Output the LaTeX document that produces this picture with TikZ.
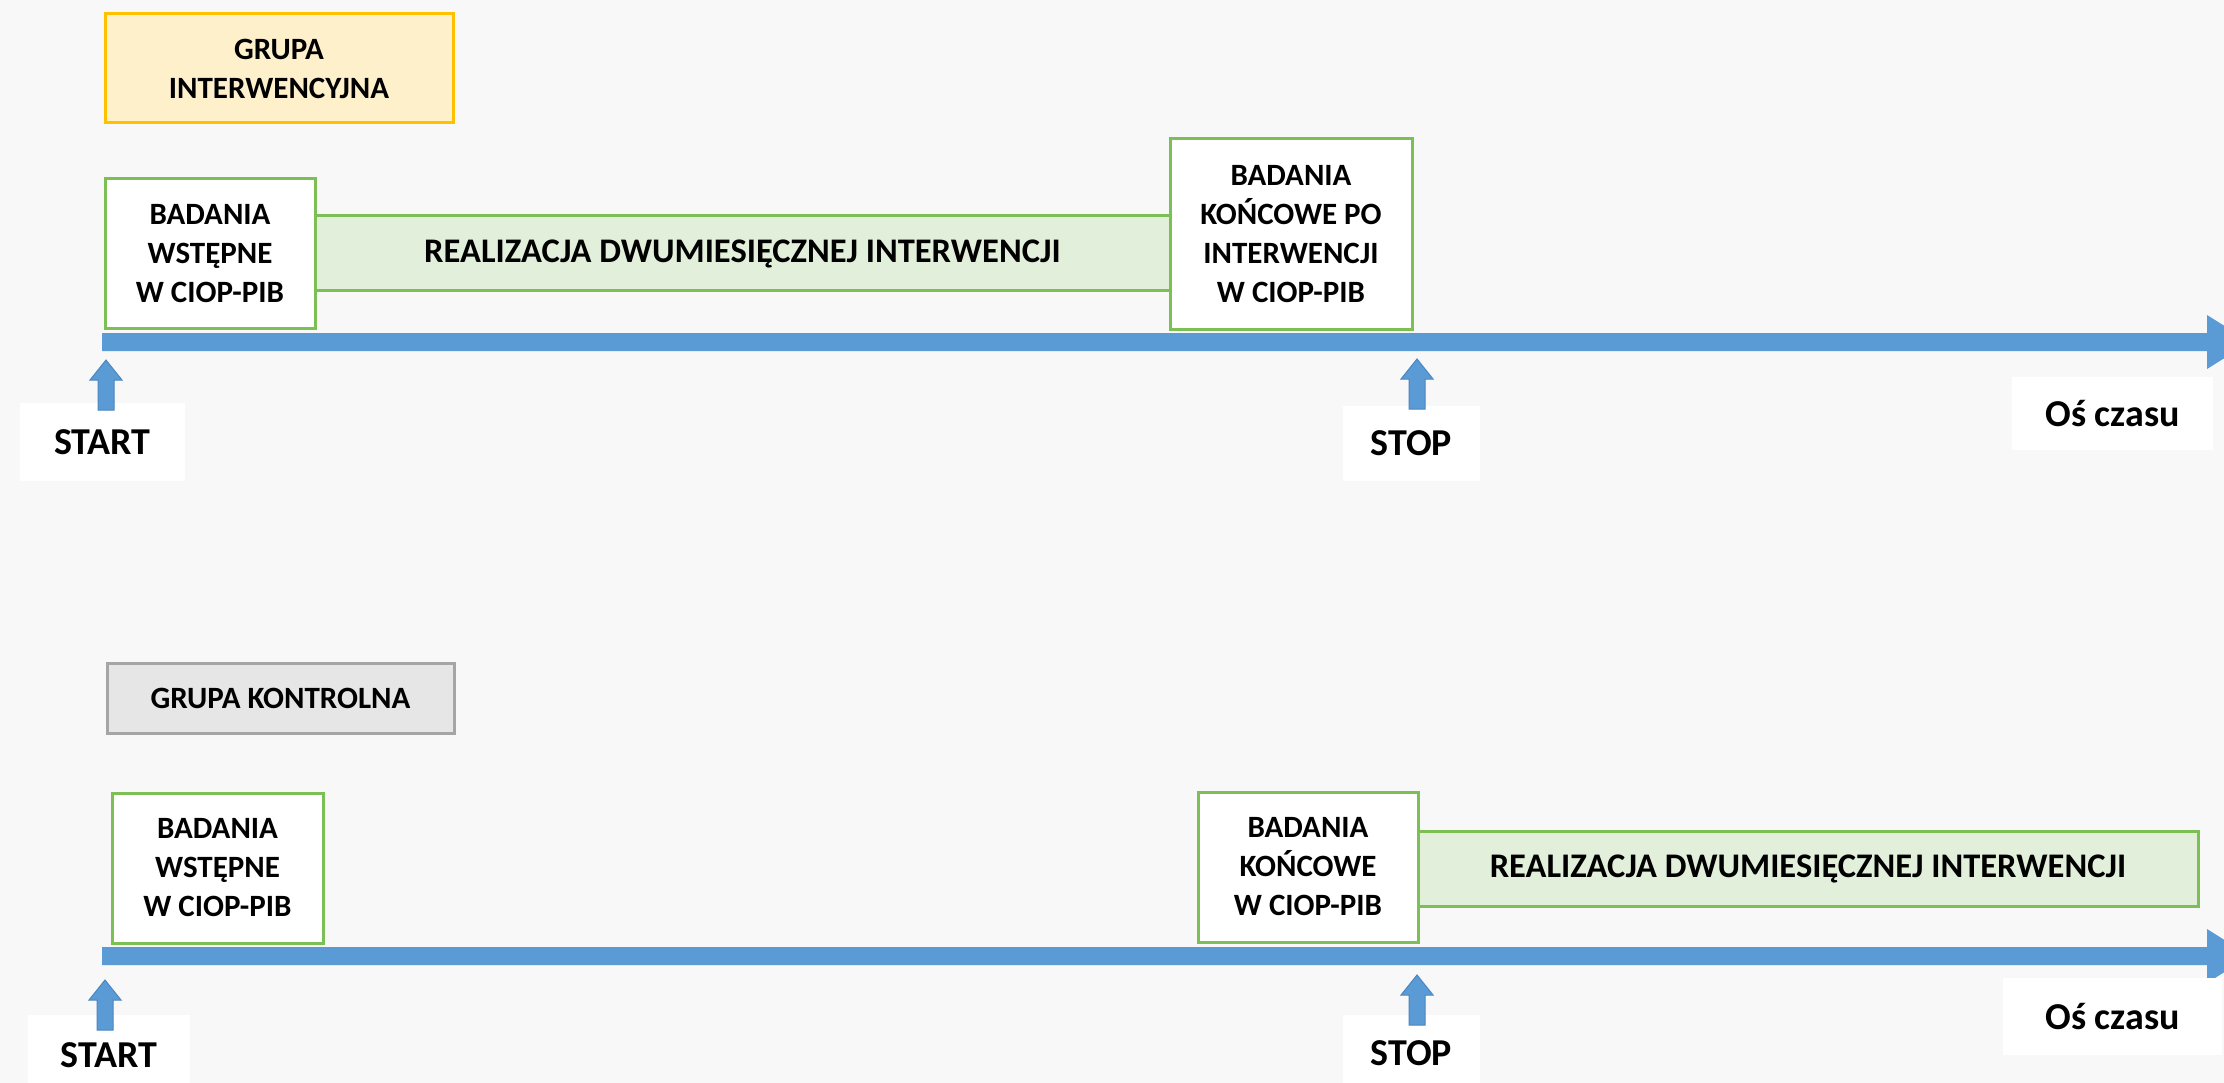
\documentclass[tikz,border=0pt]{standalone}
\usepackage{fontspec}
\setmainfont{Carlito}
\definecolor{bg}{HTML}{F8F8F8}
\definecolor{tlblue}{HTML}{5B9BD5}
\definecolor{tlblueD}{HTML}{4A86C0}
\definecolor{grn}{HTML}{7CBF55}
\definecolor{grnfill}{HTML}{E2EFDA}
\definecolor{orgB}{HTML}{FFC000}
\definecolor{orgF}{HTML}{FFF0CC}
\definecolor{gryB}{HTML}{A5A5A5}
\definecolor{gryF}{HTML}{E7E6E6}
\begin{document}
\begin{tikzpicture}[x=1pt,y=-1pt,
  txt/.style={font=\fontsize{31}{39}\selectfont\bfseries, align=center, inner sep=0pt, text=black},
  stepbox/.style={txt, draw=grn, line width=3pt, fill=white},
  barbox/.style={txt, draw=grn, line width=3pt, fill=grnfill, font=\fontsize{34.5}{39}\selectfont\bfseries},
  grpI/.style={txt, draw=orgB, line width=3pt, fill=orgF, font=\fontsize{31}{39}\selectfont\bfseries},
  grpK/.style={txt, draw=gryB, line width=3pt, fill=gryF, font=\fontsize{31}{39}\selectfont\bfseries},
  lbl/.style={fill=white, inner sep=0pt, font=\fontsize{38}{44}\selectfont\bfseries, text=black},
  timeline/.style={fill=tlblue},
  uparr/.pic={\filldraw[fill=tlblue, draw=tlblueD, line width=1pt]
     (-8,0) -- (-8,-30) -- (-16,-30) -- (0,-50) -- (16,-30) -- (8,-30) -- (8,0) -- cycle;}
]
\useasboundingbox (0,0) rectangle (2224,1083);
\clip (0,0) rectangle (2224,1083);
\fill[bg] (0,0) rectangle (2224,1083);

% ---------- row 1: intervention group ----------
\node[grpI, minimum width=348pt, minimum height=109pt] (gi) at (279,68.5) {GRUPA\\INTERWENCYJNA};

\node[barbox, minimum width=855pt, minimum height=75pt] (bar1) at (742.5,253.5) {REALIZACJA DWUMIESIĘCZNEJ INTERWENCJI};
\node[stepbox, minimum width=210pt, minimum height=149pt] (bw1) at (210,253.5) {BADANIA\\WSTĘPNE\\W CIOP-PIB};
\node[stepbox, minimum width=242pt, minimum height=190pt] (bk1) at (1291,234) {BADANIA\\KOŃCOWE PO\\INTERWENCJI\\W CIOP-PIB};

\fill[timeline] (102,333) -- (2207,333) -- (2207,315) -- (2250,342) -- (2207,369) -- (2207,351) -- (102,351) -- cycle;

\node[lbl, minimum width=165pt, minimum height=78pt] (start1) at (102.5,442) {START};
\node[lbl, minimum width=137pt, minimum height=75pt] (stop1) at (1411.5,443.5) {STOP};
\node[lbl, minimum width=201pt, minimum height=73pt] (os1) at (2112.5,413.5) {Oś czasu};

\pic at (106,410) {uparr};
\pic at (1417,409) {uparr};

% ---------- row 2: control group ----------
\node[grpK, minimum width=347pt, minimum height=70pt] (gk) at (280.5,698) {GRUPA KONTROLNA};

\node[barbox, minimum width=780pt, minimum height=75pt] (bar2) at (1808,868.5) {REALIZACJA DWUMIESIĘCZNEJ INTERWENCJI};
\node[stepbox, minimum width=211pt, minimum height=150pt] (bw2) at (217.5,868) {BADANIA\\WSTĘPNE\\W CIOP-PIB};
\node[stepbox, minimum width=220pt, minimum height=150pt] (bk2) at (1308,867) {BADANIA\\KOŃCOWE\\W CIOP-PIB};

\fill[timeline] (102,947) -- (2207,947) -- (2207,929) -- (2250,956) -- (2207,983) -- (2207,965) -- (102,965) -- cycle;

\node[lbl, minimum width=162pt, minimum height=80pt] (start2) at (109,1055) {START};
\node[lbl, minimum width=137pt, minimum height=76pt] (stop2) at (1411.5,1053) {STOP};
\node[lbl, minimum width=219pt, minimum height=77pt] (os2) at (2112.5,1016.5) {Oś czasu};

\pic at (105,1030) {uparr};
\pic at (1417,1025) {uparr};
\end{tikzpicture}
\end{document}
